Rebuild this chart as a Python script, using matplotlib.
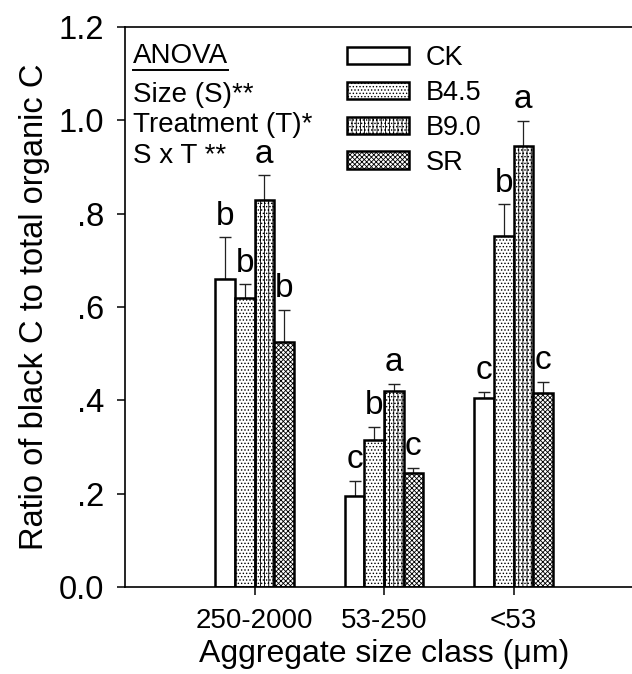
import matplotlib
matplotlib.use("Agg")
import matplotlib.pyplot as plt
from matplotlib.lines import Line2D
import numpy as np

plt.rcParams['font.family'] = ['Liberation Sans', 'DejaVu Sans']
plt.rcParams['hatch.linewidth'] = 0.6

size_classes = ['250-2000', '53-250', '<53']
treatments = ['CK', 'B4.5', 'B9.0', 'SR']
ratio = {
    'CK':   [0.660, 0.195, 0.405],
    'B4.5': [0.620, 0.315, 0.753],
    'B9.0': [0.830, 0.420, 0.945],
    'SR':   [0.525, 0.245, 0.415],
}
se = {
    'CK':   [0.090, 0.033, 0.013],
    'B4.5': [0.029, 0.028, 0.067],
    'B9.0': [0.052, 0.016, 0.054],
    'SR':   [0.069, 0.011, 0.025],
}
letters = {
    'CK':   ['b', 'c', 'c'],
    'B4.5': ['b', 'b', 'b'],
    'B9.0': ['a', 'a', 'a'],
    'SR':   ['b', 'c', 'c'],
}
hatches = {'CK': '', 'B4.5': '.....', 'B9.0': '||||.....', 'SR': 'xxxxxxx'}
anova_lines = ['Size (S)**', 'Treatment (T)*', 'S x T **']
yticks = [0.0, 0.2, 0.4, 0.6, 0.8, 1.0, 1.2]
ytick_labels = ['0.0', '.2', '.4', '.6', '.8', '1.0', '1.2']

fig = plt.figure(figsize=(6.32, 6.74), dpi=100)
ax = fig.add_axes([0.1978, 0.129, 0.8196, 0.8309])

x = np.arange(1, len(size_classes) + 1)
width = 0.151
for i, t in enumerate(treatments):
    pos = x + (i - 1.5) * width
    ax.bar(pos, ratio[t], width, color='white', edgecolor='black',
           linewidth=1.8, hatch=hatches[t], label=t, zorder=2)
    ax.errorbar(pos, ratio[t], yerr=[np.zeros(len(x)), se[t]], fmt='none',
                ecolor='#222222', elinewidth=0.9, capsize=4.3, capthick=1.0,
                zorder=1)
    for p, v, e, s in zip(pos, ratio[t], se[t], letters[t]):
        ax.annotate(s, (p, v + e), xytext=(0, 9), textcoords='offset points',
                    ha='center', va='baseline', fontsize=24)

ax.set_xlim(0, 4)
ax.set_ylim(0, 1.2)
ax.set_xticks(x)
ax.set_xticklabels(size_classes, fontsize=20)
ax.set_yticks(yticks)
ax.set_yticklabels(ytick_labels, fontsize=23.5)
ax.tick_params(axis='y', direction='out', length=6, width=1.1, pad=9)
ax.tick_params(axis='x', direction='out', length=6, width=1.1, pad=9)
for s in ax.spines.values():
    s.set_linewidth(1.2)

ax.set_xlabel('Aggregate size class (\u03bcm)', fontsize=23, labelpad=4)
ax.set_ylabel('Ratio of black C to total organic C', fontsize=23.5,
              labelpad=6)

# ANOVA block
t0 = ax.text(0.015, 0.936, 'ANOVA', transform=ax.transAxes, fontsize=20,
             ha='left', va='baseline')
fig.canvas.draw()
bb = t0.get_window_extent().transformed(fig.transFigure.inverted())
fig.add_artist(Line2D([bb.x0, bb.x1], [bb.y0 - 0.001, bb.y0 - 0.001],
                      transform=fig.transFigure, color='black', lw=1.4))
for k, line in enumerate(anova_lines):
    ax.text(0.015, 0.866 - k * 0.054, line, transform=ax.transAxes,
            fontsize=20, ha='left', va='baseline')

ax.legend(loc='upper left', bbox_to_anchor=(0.4286, 0.968), frameon=False,
          fontsize=19.5, borderpad=0, borderaxespad=0, handlelength=2.3,
          handleheight=0.62, handletextpad=0.62, labelspacing=0.33)

fig.savefig('out.png', dpi=100)
